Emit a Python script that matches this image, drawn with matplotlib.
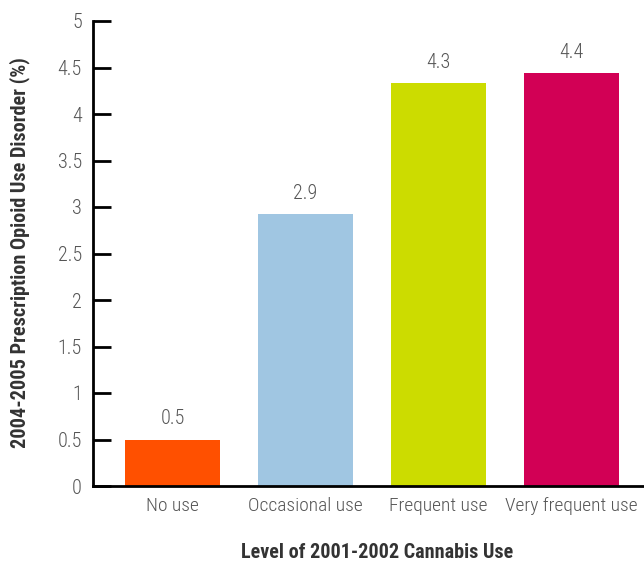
import matplotlib
matplotlib.use("Agg")
from matplotlib import pyplot as plt
import numpy as np

categories = ["No use", "Occasional use", "Frequent use", "Very frequent use"]
values = [0.5, 2.92, 4.33, 4.44]
labels = ["0.5", "2.9", "4.3", "4.4"]
colors = ["#FF5000", "#A0C6E2", "#CCDC00", "#D20055"]

plt.rcParams['font.family'] = ['Roboto Condensed', 'DejaVu Sans']
grey = "#555555"

fig = plt.figure(figsize=(6.44, 5.62), dpi=100)
ax = fig.add_axes([93/644, 1-486/562, (644-93)/644, (486-21)/562])

x = np.arange(len(categories))
ax.bar(x, values, 0.714, color=colors)
for xi, v, lab in zip(x, values, labels):
    ax.text(xi, v + 0.12, lab, ha='center', va='bottom', fontsize=14.5, color=grey, fontweight='light')

ax.set_xlim(-0.598, 3.545)
ax.set_ylim(0, 5)
ax.set_yticks(np.arange(0, 5.01, 0.5))
ax.set_yticklabels(["0", "0.5", "1", "1.5", "2", "2.5", "3", "3.5", "4", "4.5", "5"])
ax.set_xticks(x)
ax.set_xticklabels(categories)
ax.tick_params(axis='y', direction='in', length=13, width=2, labelsize=14.5, labelcolor=grey, pad=8)
ax.tick_params(axis='x', length=0, labelsize=14, labelcolor=grey, pad=8)
for t in ax.get_xticklabels() + ax.get_yticklabels():
    t.set_fontweight('light')
for s in ['top', 'right']:
    ax.spines[s].set_visible(False)
ax.spines['left'].set_linewidth(2)
ax.spines['bottom'].set_linewidth(2)

ax.set_ylabel("2004-2005 Prescription Opioid Use Disorder (%)", fontsize=14.6, fontweight='bold', color="#333333")
ax.yaxis.set_label_coords(-63 / 551, (486 - 252.5) / 465)
fig.text(377/644, 1 - 553/562, "Level of 2001-2002 Cannabis Use", ha='center', va='center', fontsize=14.5, fontweight='bold', color="#333333")

fig.savefig("out.png", dpi=100)
